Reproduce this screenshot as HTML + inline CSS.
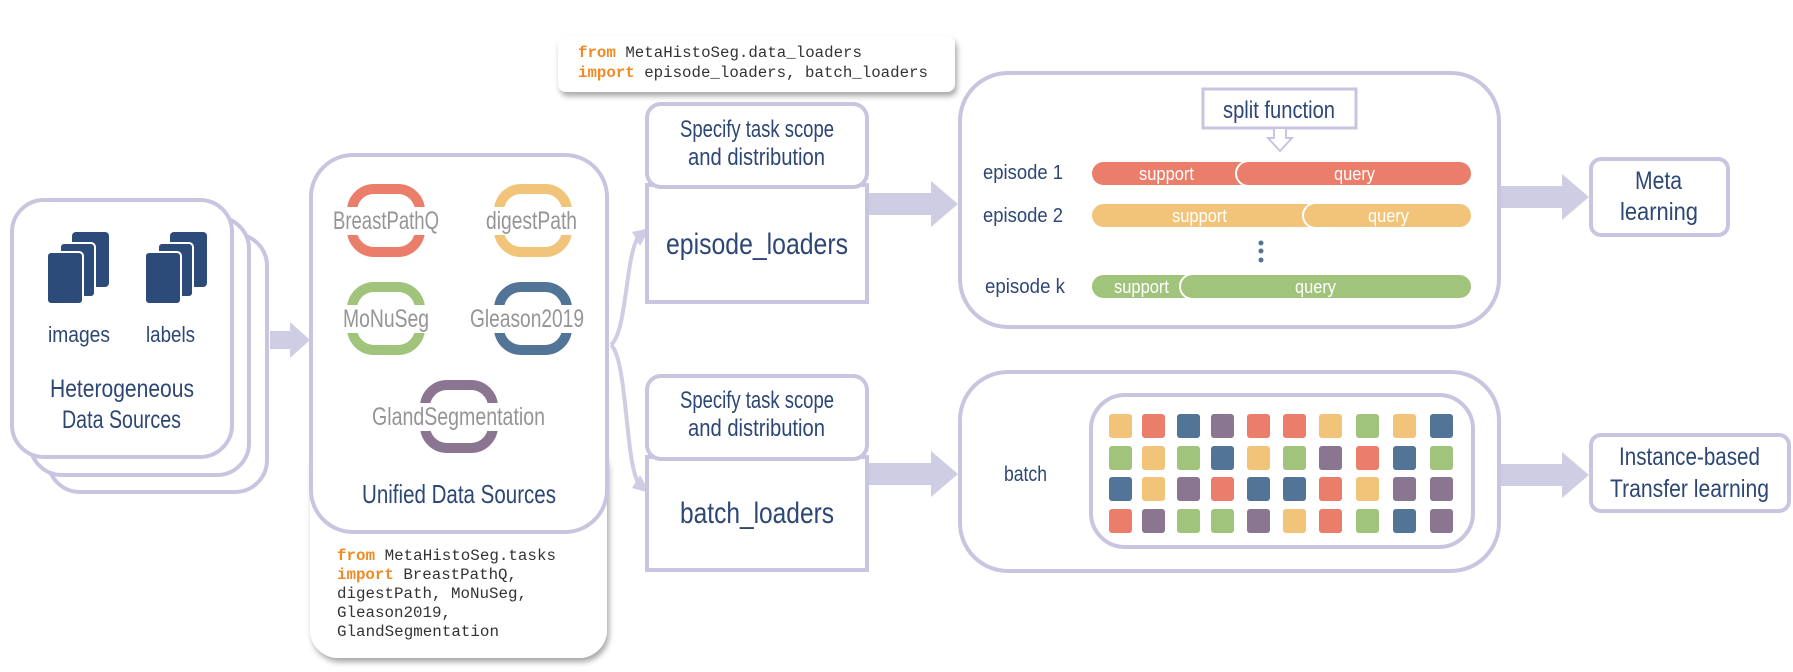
<!DOCTYPE html>
<html><head><meta charset="utf-8"><style>
html,body{margin:0;padding:0;background:#fff}
svg{display:block}
.t{font-family:"Liberation Sans Narrow","Liberation Sans",sans-serif;fill:#2d4775}
.g{font-family:"Liberation Sans Narrow","Liberation Sans",sans-serif;fill:#959595}
.w{font-family:"Liberation Sans Narrow","Liberation Sans",sans-serif;fill:#fff}
.m{font-family:"Liberation Mono",monospace;font-size:15.5px;fill:#333}
.o{fill:#f08a24;font-weight:bold}
</style></head><body>
<svg width="1793" height="672" viewBox="0 0 1793 672" xmlns="http://www.w3.org/2000/svg">
<defs>
<filter id="sh" x="-10%" y="-10%" width="130%" height="140%"><feDropShadow dx="2" dy="4" stdDeviation="3" flood-color="#000" flood-opacity="0.35"/></filter>
</defs>
<g fill="#fff" stroke="#c8c5e0" stroke-width="4">
<rect x="48" y="234" width="219" height="258" rx="32"/>
<rect x="30" y="217" width="219" height="258" rx="32"/>
<rect x="12" y="200" width="220" height="257" rx="32"/>
</g>
<g fill="#2d4b78">
<rect x="72" y="232" width="37" height="55" rx="4"/><rect x="60" y="243" width="35" height="54" rx="4" stroke="#fff" stroke-width="2"/><rect x="47" y="252" width="36" height="52" rx="4" stroke="#fff" stroke-width="2"/>
<rect x="170" y="232" width="37" height="55" rx="4"/><rect x="158" y="243" width="35" height="54" rx="4" stroke="#fff" stroke-width="2"/><rect x="145" y="252" width="36" height="52" rx="4" stroke="#fff" stroke-width="2"/>
</g>
<g lengthAdjust="spacingAndGlyphs">
<text class="t" x="48" y="342" font-size="22" textLength="62" lengthAdjust="spacingAndGlyphs">images</text>
<text class="t" x="146" y="342" font-size="22" textLength="49" lengthAdjust="spacingAndGlyphs">labels</text>
<text class="t" x="50" y="397" font-size="25" textLength="144" lengthAdjust="spacingAndGlyphs">Heterogeneous</text>
<text class="t" x="62" y="428" font-size="25" textLength="119" lengthAdjust="spacingAndGlyphs">Data Sources</text>
</g>
<polygon points="270,331 290,331 290,322 310,340 290,358 290,349 270,349" fill="#cfcde3"/>

<rect x="310" y="440" width="297" height="218" rx="28" fill="#fff" filter="url(#sh)"/>
<rect x="311" y="155" width="296" height="377" rx="42" fill="#fff" stroke="#c8c5e0" stroke-width="4"/>
<g fill="none" stroke-width="10">
<rect x="352" y="189" width="68" height="63" rx="22" stroke="#eb7d6b"/>
<rect x="499" y="189" width="68" height="63" rx="22" stroke="#f1c47a"/>
<rect x="352" y="287" width="68" height="63" rx="22" stroke="#a0c47b"/>
<rect x="499" y="287" width="68" height="63" rx="22" stroke="#527597"/>
<rect x="425" y="385" width="68" height="63" rx="22" stroke="#8a7690"/>
</g>
<g fill="#fff">
<rect x="340" y="207" width="95" height="28"/><rect x="485" y="207" width="95" height="28"/>
<rect x="340" y="305" width="95" height="28"/><rect x="470" y="305" width="120" height="28"/>
<rect x="370" y="403" width="180" height="28"/>
</g>
<g class="g" font-size="25">
<text x="333" y="229" textLength="106" lengthAdjust="spacingAndGlyphs">BreastPathQ</text>
<text x="486" y="229" textLength="91" lengthAdjust="spacingAndGlyphs">digestPath</text>
<text x="343" y="327" textLength="86" lengthAdjust="spacingAndGlyphs">MoNuSeg</text>
<text x="470" y="327" textLength="114" lengthAdjust="spacingAndGlyphs">Gleason2019</text>
<text x="372" y="425" textLength="173" lengthAdjust="spacingAndGlyphs">GlandSegmentation</text>
</g>
<text class="t" x="362" y="503" font-size="26" textLength="194" lengthAdjust="spacingAndGlyphs">Unified Data Sources</text>
<text class="m" x="337" y="560" textLength="219" lengthAdjust="spacingAndGlyphs"><tspan class="o">from</tspan> MetaHistoSeg.tasks</text>
<text class="m" x="337" y="579" textLength="180" lengthAdjust="spacingAndGlyphs"><tspan class="o">import</tspan> BreastPathQ,</text>
<text class="m" x="337" y="598" textLength="190" lengthAdjust="spacingAndGlyphs">digestPath, MoNuSeg,</text>
<text class="m" x="337" y="617" textLength="114" lengthAdjust="spacingAndGlyphs">Gleason2019,</text>
<text class="m" x="337" y="636" textLength="162" lengthAdjust="spacingAndGlyphs">GlandSegmentation</text>

<rect x="558" y="36" width="397" height="56" rx="8" fill="#fff" filter="url(#sh)"/>
<text class="m" x="578" y="57" textLength="284" lengthAdjust="spacingAndGlyphs"><tspan class="o">from</tspan> MetaHistoSeg.data_loaders</text>
<text class="m" x="578" y="77" textLength="350" lengthAdjust="spacingAndGlyphs"><tspan class="o">import</tspan> episode_loaders, batch_loaders</text>

<g fill="none" stroke="#cfcde3" stroke-width="4">
<path d="M611,345 C628,330 625,250 640,235"/>
<path d="M611,345 C628,360 625,470 640,485"/>
</g>
<polygon points="632,232 650,228 640,246" fill="#cfcde3"/>
<polygon points="632,488 650,493 640,475" fill="#cfcde3"/>

<g fill="#fff" stroke="#c8c5e0" stroke-width="4">
<rect x="647" y="185" width="220" height="117"/>
<rect x="647" y="104" width="220" height="83" rx="14"/>
<rect x="647" y="457" width="220" height="113"/>
<rect x="647" y="376" width="220" height="83" rx="14"/>
</g>
<g class="t" font-size="24">
<text x="680" y="137" textLength="154" lengthAdjust="spacingAndGlyphs">Specify task scope</text>
<text x="688" y="165" textLength="137" lengthAdjust="spacingAndGlyphs">and distribution</text>
<text x="680" y="408" textLength="154" lengthAdjust="spacingAndGlyphs">Specify task scope</text>
<text x="688" y="436" textLength="137" lengthAdjust="spacingAndGlyphs">and distribution</text>
</g>
<text class="t" x="666" y="254" font-size="30" textLength="182" lengthAdjust="spacingAndGlyphs">episode_loaders</text>
<text class="t" x="680" y="523" font-size="30" textLength="154" lengthAdjust="spacingAndGlyphs">batch_loaders</text>

<g fill="#cfcde3">
<polygon points="869,193 931,193 931,181 958,204 931,227 931,215 869,215"/>
<polygon points="869,463 931,463 931,451 958,474 931,497 931,485 869,485"/>
<polygon points="1500,186 1562,186 1562,174 1589,197 1562,220 1562,208 1500,208"/>
<polygon points="1500,464 1562,464 1562,452 1589,475 1562,498 1562,486 1500,486"/>
</g>

<rect x="960" y="73" width="539" height="254" rx="48" fill="#fff" stroke="#c8c5e0" stroke-width="4"/>
<rect x="1203" y="89" width="153" height="39" fill="#fff" stroke="#c8c5e0" stroke-width="3"/>
<text class="t" x="1223" y="118" font-size="24" textLength="112" lengthAdjust="spacingAndGlyphs">split function</text>
<polygon points="1274,128 1286,128 1286,138 1292,138 1280,151 1268,138 1274,138" fill="#fff" stroke="#c8c5e0" stroke-width="2"/>
<g class="t" font-size="20">
<text x="983" y="179" textLength="80" lengthAdjust="spacingAndGlyphs">episode 1</text>
<text x="983" y="222" textLength="80" lengthAdjust="spacingAndGlyphs">episode 2</text>
<text x="985" y="293" textLength="80" lengthAdjust="spacingAndGlyphs">episode k</text>
</g>
<rect x="1092" y="162" width="378" height="23" rx="11.5" fill="#eb7d6b"/>
<rect x="1236" y="161" width="236" height="25" rx="12.5" fill="#eb7d6b" stroke="#fff" stroke-width="2"/>
<rect x="1092" y="204" width="378" height="23" rx="11.5" fill="#f1c47a"/>
<rect x="1303" y="203" width="169" height="25" rx="12.5" fill="#f1c47a" stroke="#fff" stroke-width="2"/>
<rect x="1092" y="275" width="378" height="23" rx="11.5" fill="#a0c47b"/>
<rect x="1180" y="274" width="292" height="25" rx="12.5" fill="#a0c47b" stroke="#fff" stroke-width="2"/>
<g class="w" font-size="18">
<text x="1139" y="180" textLength="55" lengthAdjust="spacingAndGlyphs">support</text><text x="1334" y="180" textLength="41" lengthAdjust="spacingAndGlyphs">query</text>
<text x="1172" y="222" textLength="55" lengthAdjust="spacingAndGlyphs">support</text><text x="1368" y="222" textLength="41" lengthAdjust="spacingAndGlyphs">query</text>
<text x="1114" y="293" textLength="55" lengthAdjust="spacingAndGlyphs">support</text><text x="1295" y="293" textLength="41" lengthAdjust="spacingAndGlyphs">query</text>
</g>
<g fill="#527597"><circle cx="1261" cy="243" r="2.5"/><circle cx="1261" cy="251" r="2.5"/><circle cx="1261" cy="260" r="2.5"/></g>

<rect x="1591" y="159" width="137" height="76" rx="10" fill="#fff" stroke="#c8c5e0" stroke-width="4"/>
<text class="t" x="1635" y="189" font-size="25" textLength="47" lengthAdjust="spacingAndGlyphs">Meta</text>
<text class="t" x="1620" y="220" font-size="25" textLength="78" lengthAdjust="spacingAndGlyphs">learning</text>

<rect x="960" y="372" width="539" height="199" rx="48" fill="#fff" stroke="#c8c5e0" stroke-width="4"/>
<text class="t" x="1004" y="481" font-size="21" textLength="43" lengthAdjust="spacingAndGlyphs">batch</text>
<rect x="1091" y="395" width="382" height="152" rx="34" fill="#fff" stroke="#c8c5e0" stroke-width="4"/>
<rect x="1591" y="435" width="198" height="76" rx="10" fill="#fff" stroke="#c8c5e0" stroke-width="4"/>
<text class="t" x="1619" y="465" font-size="25" textLength="141" lengthAdjust="spacingAndGlyphs">Instance-based</text>
<text class="t" x="1610" y="497" font-size="25" textLength="159" lengthAdjust="spacingAndGlyphs">Transfer learning</text>

<g>
<rect x="1109" y="414" width="23" height="24" rx="3" fill="#f1c47a"/><rect x="1142" y="414" width="23" height="24" rx="3" fill="#eb7d6b"/><rect x="1177" y="414" width="23" height="24" rx="3" fill="#527597"/><rect x="1211" y="414" width="23" height="24" rx="3" fill="#8a7690"/><rect x="1247" y="414" width="23" height="24" rx="3" fill="#eb7d6b"/><rect x="1283" y="414" width="23" height="24" rx="3" fill="#eb7d6b"/><rect x="1319" y="414" width="23" height="24" rx="3" fill="#f1c47a"/><rect x="1356" y="414" width="23" height="24" rx="3" fill="#a0c47b"/><rect x="1393" y="414" width="23" height="24" rx="3" fill="#f1c47a"/><rect x="1430" y="414" width="23" height="24" rx="3" fill="#527597"/>
<rect x="1109" y="446" width="23" height="24" rx="3" fill="#a0c47b"/><rect x="1142" y="446" width="23" height="24" rx="3" fill="#f1c47a"/><rect x="1177" y="446" width="23" height="24" rx="3" fill="#a0c47b"/><rect x="1211" y="446" width="23" height="24" rx="3" fill="#527597"/><rect x="1247" y="446" width="23" height="24" rx="3" fill="#f1c47a"/><rect x="1283" y="446" width="23" height="24" rx="3" fill="#a0c47b"/><rect x="1319" y="446" width="23" height="24" rx="3" fill="#8a7690"/><rect x="1356" y="446" width="23" height="24" rx="3" fill="#eb7d6b"/><rect x="1393" y="446" width="23" height="24" rx="3" fill="#527597"/><rect x="1430" y="446" width="23" height="24" rx="3" fill="#a0c47b"/>
<rect x="1109" y="477" width="23" height="24" rx="3" fill="#527597"/><rect x="1142" y="477" width="23" height="24" rx="3" fill="#f1c47a"/><rect x="1177" y="477" width="23" height="24" rx="3" fill="#8a7690"/><rect x="1211" y="477" width="23" height="24" rx="3" fill="#eb7d6b"/><rect x="1247" y="477" width="23" height="24" rx="3" fill="#527597"/><rect x="1283" y="477" width="23" height="24" rx="3" fill="#527597"/><rect x="1319" y="477" width="23" height="24" rx="3" fill="#eb7d6b"/><rect x="1356" y="477" width="23" height="24" rx="3" fill="#f1c47a"/><rect x="1393" y="477" width="23" height="24" rx="3" fill="#8a7690"/><rect x="1430" y="477" width="23" height="24" rx="3" fill="#8a7690"/>
<rect x="1109" y="509" width="23" height="24" rx="3" fill="#eb7d6b"/><rect x="1142" y="509" width="23" height="24" rx="3" fill="#8a7690"/><rect x="1177" y="509" width="23" height="24" rx="3" fill="#a0c47b"/><rect x="1211" y="509" width="23" height="24" rx="3" fill="#a0c47b"/><rect x="1247" y="509" width="23" height="24" rx="3" fill="#8a7690"/><rect x="1283" y="509" width="23" height="24" rx="3" fill="#f1c47a"/><rect x="1319" y="509" width="23" height="24" rx="3" fill="#eb7d6b"/><rect x="1356" y="509" width="23" height="24" rx="3" fill="#a0c47b"/><rect x="1393" y="509" width="23" height="24" rx="3" fill="#527597"/><rect x="1430" y="509" width="23" height="24" rx="3" fill="#8a7690"/>
</g>
</svg>
</body></html>
